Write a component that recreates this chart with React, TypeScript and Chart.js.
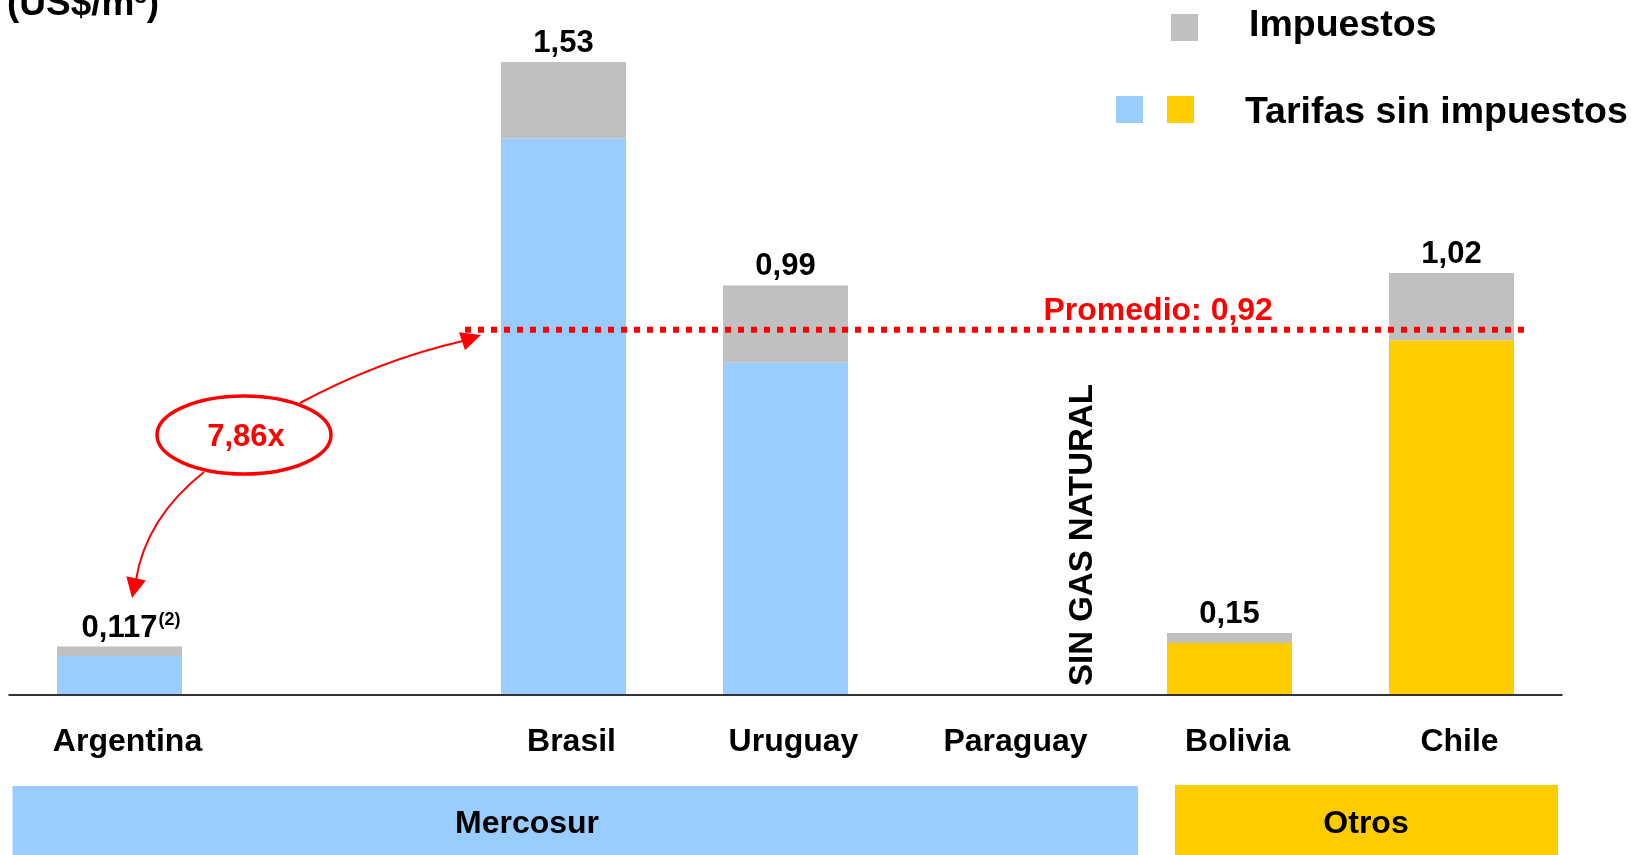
import React, { useEffect, useRef } from "react";
import { Chart, registerables } from "chart.js";

Chart.register(...registerables);

// ---- Data ----
const categories = ["Argentina", "", "Brasil", "Uruguay", "Paraguay", "Bolivia", "Chile"];
const tarifasSinImpuestos = [0.094, null, 1.345, 0.803, null, 0.126, 0.857];
const impuestos = [0.023, null, 0.185, 0.187, null, 0.024, 0.163];
const totalLabels = ["0,117", "", "1,53", "0,99", "", "0,15", "1,02"];
const totalFootnotes = ["(2)", "", "", "", "", "", ""];
const tarifaColors = ["#99CCFF", "#99CCFF", "#99CCFF", "#99CCFF", "#99CCFF", "#FFCC00", "#FFCC00"];
const impuestoColor = "#C0C0C0";
const promedioLevel = 0.883;
const promedioLabel = "Promedio: 0,92";
const ratioLabel = "7,86x";
const sinGasLabel = "SIN GAS NATURAL";
const sinGasIndex = 4;
const groupNames = ["Mercosur", "Otros"];
const groupColors = ["#99CCFF", "#FFCC00"];
const legendLabels = ["Impuestos", "Tarifas sin impuestos"];
const unitTitle = "(US$/m³)";
const yMax = 1.68;

const FONT = '"Liberation Sans", Arial, Helvetica, sans-serif';
const RED = "#FF0000";

function arrowHead(ctx: CanvasRenderingContext2D, tipX: number, tipY: number, fromX: number, fromY: number, len: number, width: number) {
  const ang = Math.atan2(tipY - fromY, tipX - fromX);
  const bx = tipX - Math.cos(ang) * len;
  const by = tipY - Math.sin(ang) * len;
  const px = -Math.sin(ang) * (width / 2);
  const py = Math.cos(ang) * (width / 2);
  ctx.beginPath();
  ctx.moveTo(tipX, tipY);
  ctx.lineTo(bx + px, by + py);
  ctx.lineTo(bx - px, by - py);
  ctx.closePath();
  ctx.fill();
}

const annotationPlugin = {
  id: "annotations",
  afterDatasetsDraw(chart: any) {
    const ctx: CanvasRenderingContext2D = chart.ctx;
    const xs = chart.scales.x;
    const ys = chart.scales.y;
    const area = chart.chartArea;
    ctx.save();

    // baseline
    ctx.strokeStyle = "#333333";
    ctx.lineWidth = 2;
    ctx.beginPath();
    ctx.moveTo(area.left, area.bottom);
    ctx.lineTo(area.right, area.bottom);
    ctx.stroke();

    // value labels
    ctx.fillStyle = "#000";
    ctx.textBaseline = "alphabetic";
    for (let i = 0; i < categories.length; i++) {
      if (!totalLabels[i]) continue;
      const total = (tarifasSinImpuestos[i] || 0) + (impuestos[i] || 0);
      const x = xs.getPixelForValue(i);
      const yTop = ys.getPixelForValue(total);
      ctx.font = `bold 31px ${FONT}`;
      ctx.textAlign = "center";
      ctx.fillText(totalLabels[i], x, yTop - 10);
      if (totalFootnotes[i]) {
        const w = ctx.measureText(totalLabels[i]).width;
        ctx.font = `bold 18px ${FONT}`;
        ctx.textAlign = "left";
        ctx.fillText(totalFootnotes[i], x + w / 2 + 1, yTop - 22);
      }
    }

    // category labels
    ctx.font = `bold 32px ${FONT}`;
    ctx.textAlign = "center";
    for (let i = 0; i < categories.length; i++) {
      if (!categories[i]) continue;
      ctx.fillText(categories[i], xs.getPixelForValue(i) + 8, area.bottom + 56);
    }

    // SIN GAS NATURAL
    ctx.save();
    ctx.translate(xs.getPixelForValue(sinGasIndex) + 84, area.bottom - 9);
    ctx.rotate(-Math.PI / 2);
    ctx.font = `bold 33px ${FONT}`;
    ctx.textAlign = "left";
    ctx.fillText(sinGasLabel, 0, 0);
    ctx.restore();

    // promedio dotted line
    const yP = ys.getPixelForValue(promedioLevel);
    ctx.strokeStyle = RED;
    ctx.lineWidth = 6;
    ctx.setLineDash([6, 7]);
    ctx.beginPath();
    ctx.moveTo(xs.getPixelForValue(2) - 98.5, yP);
    ctx.lineTo(xs.getPixelForValue(6) + 76, yP);
    ctx.stroke();
    ctx.setLineDash([]);

    ctx.fillStyle = RED;
    ctx.font = `bold 32px ${FONT}`;
    ctx.textAlign = "left";
    ctx.fillText(promedioLabel, xs.getPixelForValue(sinGasIndex) + 36, yP - 10);

    // ratio ellipse
    ctx.strokeStyle = RED;
    ctx.lineWidth = 3.5;
    ctx.beginPath();
    ctx.ellipse(244, 435, 87, 39, 0, 0, Math.PI * 2);
    ctx.stroke();
    ctx.font = `bold 31px ${FONT}`;
    ctx.textAlign = "center";
    ctx.textBaseline = "middle";
    ctx.fillText(ratioLabel, 246, 437);

    // arrows
    ctx.lineWidth = 2;
    ctx.beginPath();
    ctx.moveTo(300, 403);
    ctx.quadraticCurveTo(380, 360, 463, 341);
    ctx.stroke();
    arrowHead(ctx, 481, 335, 463, 341, 20, 19);

    ctx.beginPath();
    ctx.moveTo(204, 472);
    ctx.quadraticCurveTo(146, 518, 136, 580);
    ctx.stroke();
    arrowHead(ctx, 132, 598, 136, 579, 20, 20);

    // title
    ctx.fillStyle = "#000";
    ctx.textAlign = "left";
    ctx.textBaseline = "alphabetic";
    ctx.font = `bold 37px ${FONT}`;
    ctx.fillText(unitTitle, 7, 15);

    // legend
    ctx.fillStyle = impuestoColor;
    ctx.fillRect(1171, 14, 27, 27);
    ctx.fillStyle = groupColors[0];
    ctx.fillRect(1116, 96, 27, 27);
    ctx.fillStyle = groupColors[1];
    ctx.fillRect(1167, 96, 27, 27);
    ctx.fillStyle = "#000";
    ctx.font = `bold 37.5px ${FONT}`;
    ctx.fillText(legendLabels[0], 1249, 36);
    ctx.fillText(legendLabels[1], 1245, 123);

    // group bands
    ctx.fillStyle = groupColors[0];
    ctx.fillRect(12.5, 786, 1125.5, 69);
    ctx.fillStyle = groupColors[1];
    ctx.fillRect(1175, 785, 383, 70);
    ctx.fillStyle = "#000";
    ctx.font = `bold 32px ${FONT}`;
    ctx.textAlign = "center";
    ctx.fillText(groupNames[0], 527, 833);
    ctx.fillText(groupNames[1], 1366, 833);

    ctx.restore();
  },
};

export default function App() {
  const ref = useRef<HTMLCanvasElement>(null);
  useEffect(() => {
    const canvas = ref.current;
    if (!canvas) return;
    const chart = new Chart(canvas, {
      type: "bar",
      data: {
        labels: categories,
        datasets: [
          {
            label: legendLabels[1],
            data: tarifasSinImpuestos as any,
            backgroundColor: tarifaColors,
            stack: "s",
            barPercentage: 0.563,
            categoryPercentage: 1,
            borderWidth: 0,
          },
          {
            label: legendLabels[0],
            data: impuestos as any,
            backgroundColor: impuestoColor,
            stack: "s",
            barPercentage: 0.563,
            categoryPercentage: 1,
            borderWidth: 0,
          },
        ],
      },
      options: {
        responsive: false,
        animation: false,
        layout: { padding: { left: 8.5, right: 68.5, top: 0, bottom: 160 } },
        scales: {
          x: { display: false, stacked: true },
          y: { display: false, stacked: true, min: 0, max: yMax },
        },
        plugins: {
          legend: { display: false },
          tooltip: { enabled: false },
          title: { display: false },
        },
      },
      plugins: [annotationPlugin],
    });
    return () => chart.destroy();
  }, []);
  return (
    <div style={{ position: "fixed", left: 0, top: 0, width: 1631, height: 855, background: "#fff" }}>
      <canvas ref={ref} width={1631} height={855} style={{ display: "block" }} />
    </div>
  );
}
